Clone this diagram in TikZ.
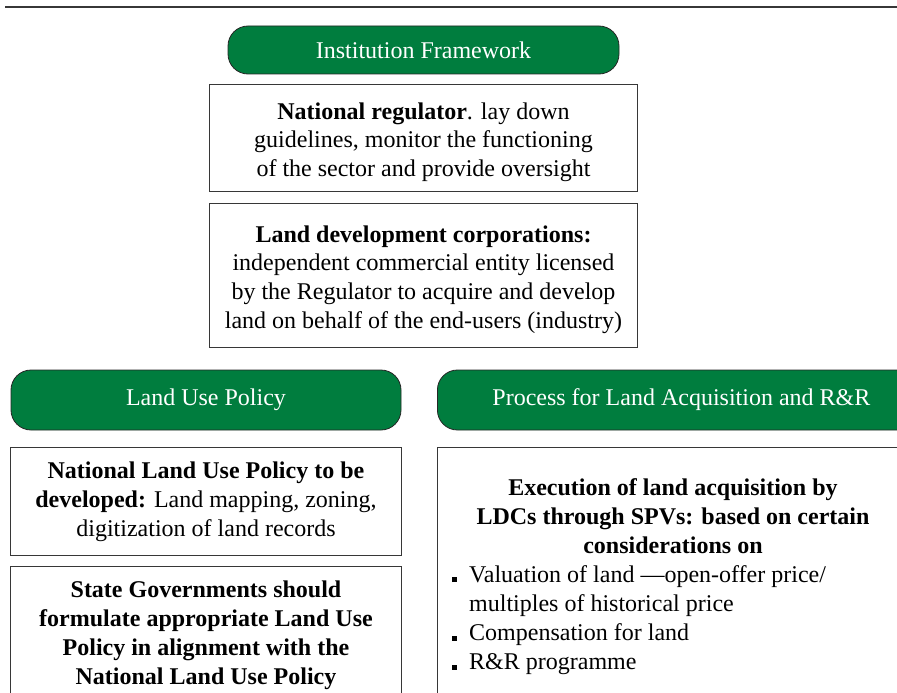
\documentclass[tikz,border=0pt]{standalone}
\usepackage{fontspec}
\setmainfont{Liberation Serif}
\usetikzlibrary{positioning}
\definecolor{framegreen}{RGB}{0,125,62}
\definecolor{rulegray}{RGB}{55,55,55}
\newcommand{\sqbullet}{\makebox[17pt][l]{\rule{5pt}{5pt}}}
\newcommand{\tstrut}{\rule{0pt}{24pt}}

\begin{document}
\begin{tikzpicture}[
    x=1pt, y=-1pt,
    node distance=10pt,
    every node/.style={font=\fontsize{24}{28.8}\selectfont},
    pill/.style={rectangle, draw=black!85, fill=framegreen, text=white, rounded corners=20pt, line width=0.8pt, inner sep=0pt},
    infobox/.style={rectangle, draw=rulegray, line width=1pt, align=center, inner sep=0pt},
    boldtext/.style={font=\fontsize{24}{29}\selectfont\bfseries},
    item/.style={anchor=north west, inner sep=0pt, align=left, font=\fontsize{24}{29.2}\selectfont}
]
    \useasboundingbox (0,0) rectangle (897,693);
    \draw[rulegray, line width=1.4pt] (5,7) -- (897,7);

    % institution framework
    \node[pill, minimum width=391pt, minimum height=48pt] (inst) at (423.5,50) {Institution Framework};
    \node[infobox, minimum width=428pt, minimum height=107pt, below=10pt of inst] (reg)
        {\tstrut\textbf{National regulator}. lay down\\guidelines, monitor the functioning\\of the sector and provide oversight};
    \node[infobox, minimum width=428pt, minimum height=144pt, below=11pt of reg] (ldc)
        {\tstrut\textbf{Land development corporations:}\\independent commercial entity licensed\\by the Regulator to acquire and develop\\land on behalf of the end-users (industry)};

    % land use policy
    \node[pill, minimum width=390pt, minimum height=60pt] (landuse) at (206,400) {Land Use Policy};
    \node[infobox, minimum width=391pt, minimum height=108pt, below=17pt of landuse] (nlup)
        {\textbf{National Land Use Policy to be}\\\textbf{developed:} Land mapping, zoning,\\digitization of land records};
    \node[infobox, boldtext, minimum width=391pt, minimum height=137pt, below=10pt of nlup] (state)
        {State Governments should\\formulate appropriate Land Use\\Policy in alignment with the\\National Land Use Policy};

    % land acquisition
    \node[pill, minimum width=488pt, minimum height=60pt, anchor=west] (process) at (437,400) {Process for Land Acquisition and R\&R};
    \node[infobox, minimum width=472pt, minimum height=256pt, anchor=north west] (procbox) at (437,447) {};
    \node[boldtext, align=center, inner sep=0pt, anchor=north] (exec) at (673,478)
        {Execution of land acquisition by\\LDCs through SPVs: based on certain\\considerations on};
    \node[item] (items) at (452,565)
        {\sqbullet Valuation of land ---open-offer price/\\\hspace*{17pt}multiples of historical price\\
         \sqbullet Compensation for land\\\sqbullet R\&R programme};
\end{tikzpicture}
\end{document}
